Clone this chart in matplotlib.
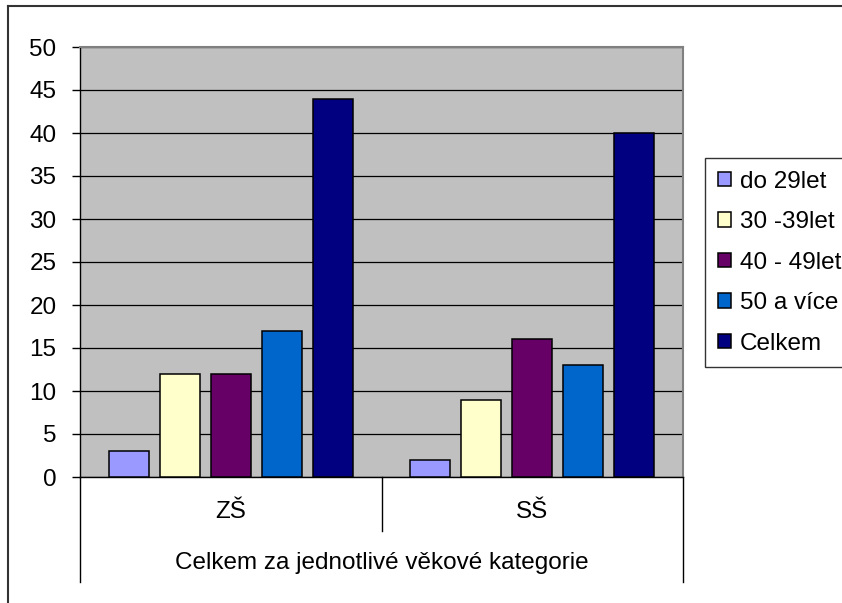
import matplotlib
matplotlib.use("Agg")

import numpy as np
import matplotlib.pyplot as plt
from matplotlib.lines import Line2D

plt.rcParams["font.family"] = ["Liberation Sans", "DejaVu Sans"]

# teachers by age group, per school type
groups = ["ZŠ", "SŠ"]
series_names = ["do 29let", "30 -39let", "40 - 49let", "50 a více", "Celkem"]
do_29 = [3, 2]
od_30_39 = [12, 9]
od_40_49 = [12, 16]
nad_50 = [17, 13]
celkem = [44, 40]
axis_title = "Celkem za jednotlivé věkové kategorie"

series = [do_29, od_30_39, od_40_49, nad_50, celkem]
colors = ["#9999FF", "#FFFFCC", "#660066", "#0066CC", "#000080"]

fs = 17.5
fig = plt.figure(figsize=(8.42, 6.03), dpi=100)
ax = fig.add_axes([80 / 842, 126 / 603, 603 / 842, 430 / 603])
ax.set_facecolor("#C0C0C0")

x = np.arange(len(groups))
step = 51 / 301
width = 40 / 301
handles = []
for i, (vals, col, name) in enumerate(zip(series, colors, series_names)):
    offs = (i - 2) * step
    b = ax.bar(x + offs, vals, width, color=col, edgecolor="black",
               linewidth=1.1, label=name, zorder=3)
    handles.append(b)

ax.set_xlim(-0.5, 1.5)
ax.set_ylim(0, 50)
ax.set_yticks(range(0, 51, 5))
ax.yaxis.grid(True, color="black", linewidth=0.9, zorder=1)
ax.set_axisbelow(True)
ax.tick_params(axis="y", direction="out", length=6, width=1, pad=11,
               labelsize=fs, colors="black")
ax.set_xticks([])

for side in ["top", "right"]:
    ax.spines[side].set_color("#808080")
    ax.spines[side].set_linewidth(1.5)
ax.spines["left"].set_color("black")
ax.spines["bottom"].set_color("black")
ax.spines["left"].set_linewidth(1)
ax.spines["bottom"].set_linewidth(1)

# category group dividers below the axis
trans = ax.get_xaxis_transform()
ax.plot([-0.5, -0.5], [0, -105 / 430], color="black", lw=1,
        transform=trans, clip_on=False)
ax.plot([1.5, 1.5], [0, -105 / 430], color="black", lw=1,
        transform=trans, clip_on=False)
ax.plot([0.5, 0.5], [0, -54 / 430], color="black", lw=1,
        transform=trans, clip_on=False)
for xi, g in zip(x, groups):
    ax.text(xi, -35 / 430, g, transform=trans, ha="center", va="center",
            fontsize=fs)
ax.text(0.5, -86 / 430, axis_title, transform=trans, ha="center",
        va="center", fontsize=fs)

leg = fig.legend(handles=handles, loc="upper left",
                 bbox_to_anchor=(705 / 842, 1 - 158 / 603),
                 fontsize=fs, frameon=True, fancybox=False,
                 handlelength=0.55, handleheight=0.55, handletextpad=0.35,
                 labelspacing=0.76, borderpad=0.52, borderaxespad=0)
leg.get_frame().set_edgecolor("black")
leg.get_frame().set_linewidth(1)

# chart area border (left and top)
fig.add_artist(Line2D([8 / 842, 8 / 842], [0, 1 - 6 / 603],
                      color="#333333", lw=1.5))
fig.add_artist(Line2D([8 / 842, 1], [1 - 6 / 603, 1 - 6 / 603],
                      color="#333333", lw=1.5))

fig.savefig("out.png", dpi=100)
